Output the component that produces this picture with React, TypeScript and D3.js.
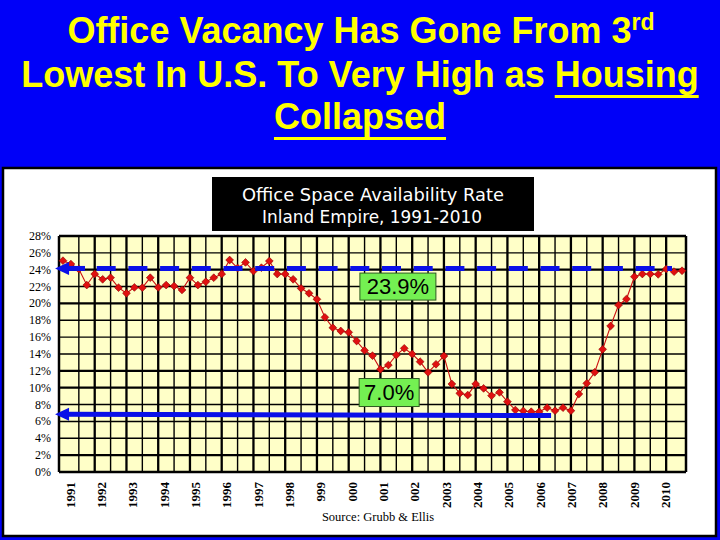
import React from 'react';
import * as d3 from 'd3';

// ---- data ----
const yearLabels = ['1991','1992','1993','1994','1995','1996','1997','1998','999','000','001','002','2003','2004','2005','2006','2007','2008','2009','2010'];
const yTicks = [0,2,4,6,8,10,12,14,16,18,20,22,24,26,28];
const rates = [
  25.07, 24.67, 24.08, 22.18, 23.49, 22.86, 23.05, 21.87,
  21.2, 21.9, 21.87, 23.05, 21.9, 22.18, 22.06, 21.6,
  23.05, 22.18, 22.57, 23.05, 23.49, 25.15, 24.2, 24.87,
  23.84, 24.24, 25.03, 23.49, 23.49, 22.86, 21.79, 21.2,
  20.49, 18.35, 17.12, 16.73, 16.57, 15.54, 14.43, 13.8,
  12.18, 12.69, 13.88, 14.67, 14.0, 13.09, 11.83, 12.78,
  13.76, 10.44, 9.33, 9.13, 10.44, 9.92, 9.05, 9.45,
  8.34, 7.35, 7.24, 7.15, 7.15, 7.63, 7.27, 7.63,
  7.27, 9.25, 10.52, 11.83, 14.55, 17.32, 19.81, 20.52,
  23.17, 23.49, 23.49, 23.45, 24.08, 23.77, 23.88
];
const highLevel = 24.15;
const lowLevelStart = 6.85;
const lowLevelEnd = 6.7;
const annotationLabels = ['23.9%', '7.0%'];
const annotationValues = [22.0, 9.43];
const annotationIndex = [42.2, 41.1];

const thickH = new Set([0, 2, 10, 12, 20, 24, 28]);

function measure(text: string, font: string) {
  const c = document.createElement('canvas').getContext('2d');
  if (!c) return text.length * 18;
  c.font = font;
  return c.measureText(text).width;
}

export default function App() {
  const W = 720, H = 540;
  const L = 59, R = 686, T = 236, B = 472;
  const x = d3.scaleLinear().domain([-0.5, rates.length - 0.5]).range([L, R]);
  const y = d3.scaleLinear().domain([0, 28]).range([B, T]);
  const yearBand = d3.scaleBand().domain(yearLabels).range([L, R]);
  const line = d3.line<number>().x((_, i) => x(i)).y(d => y(d));

  const titleFont = "bold 36px 'Liberation Sans', Arial, sans-serif";
  const line2 = 'Lowest In U.S. To Very High as ';
  const w2full = measure(line2 + 'Housing', titleFont);
  const w2pre = measure(line2, titleFont);
  const x2start = 360 - w2full / 2;
  const w3 = measure('Collapsed', titleFont);

  const vIdx: number[] = [];
  for (let i = 2; i < rates.length - 1; i += 2) vIdx.push(i);

  const diamond = 'M0,-3.9L3.9,0L0,3.9L-3.9,0Z';

  const arrowHead = (tipX: number, tipY: number) =>
    `M${tipX},${tipY}L${tipX + 14},${tipY - 6.5}L${tipX + 14},${tipY + 6.5}Z`;

  const tipX = x(-1);
  const hy = y(highLevel);

  return (
    <svg width={W} height={H} style={{ position: 'absolute', left: 0, top: 0 }}>
      <rect x={0} y={0} width={W} height={H} fill="#0000f8" />
      {/* Title */}
      <g fill="#ffff00" style={{ font: titleFont }}>
        <text x={361} y={43} textAnchor="middle">
          Office Vacancy Has Gone From 3<tspan fontSize={23} dy={-13}>rd</tspan>
        </text>
        <text x={360} y={87} textAnchor="middle">{line2}Housing</text>
        <rect x={x2start + w2pre} y={95} width={w2full - w2pre} height={3} />
        <text x={360} y={129} textAnchor="middle">Collapsed</text>
        <rect x={360 - w3 / 2} y={137} width={w3} height={3} />
      </g>
      {/* panel */}
      <rect x={3} y={168} width={713} height={368} fill="#ffffff" stroke="#000" strokeWidth={2.5} />
      {/* header */}
      <rect x={212} y={177} width={322} height={54} fill="#000" />
      <g fill="#fff" fontFamily="'DejaVu Sans', sans-serif" fontSize={18} textAnchor="middle">
        <text x={373} y={201} textLength={262} lengthAdjust="spacingAndGlyphs">Office Space Availability Rate</text>
        <text x={372} y={223} textLength={220} lengthAdjust="spacingAndGlyphs">Inland Empire, 1991-2010</text>
      </g>
      {/* plot bg */}
      <rect x={L} y={T} width={R - L} height={B - T} fill="#ffffc8" />
      {/* grid */}
      <g stroke="#000">
        {yTicks.map(t => (
          <line key={'h' + t} x1={L} x2={R} y1={y(t)} y2={y(t)} strokeWidth={thickH.has(t) ? 2.3 : 1.4} />
        ))}
        {vIdx.map(i => (
          <line key={'v' + i} x1={x(i)} x2={x(i)} y1={T} y2={B} strokeWidth={i % 4 === 0 ? 2.3 : 1.4} />
        ))}
        <line x1={L} x2={L} y1={T} y2={B} strokeWidth={2.5} />
        <line x1={R} x2={R} y1={T} y2={B} strokeWidth={2.5} />
      </g>
      {/* y labels */}
      <g fontFamily="'Liberation Serif', 'Times New Roman', serif" fontSize={12} textAnchor="end" fill="#000">
        {yTicks.map(t => (
          <text key={'yl' + t} x={51} y={y(t)} dominantBaseline="central">{t}%</text>
        ))}
      </g>
      {/* x labels */}
      <g fontFamily="'Liberation Serif', 'Times New Roman', serif" fontSize={13} fontWeight="bold" fill="#000">
        {yearLabels.map(yl => {
          const cx = (yearBand(yl) as number) + 11;
          return (
            <text key={'xl' + yl} transform={`translate(${cx},482) rotate(-90)`} textAnchor="end" dominantBaseline="central">{yl}</text>
          );
        })}
      </g>
      <text x={378} y={521} textAnchor="middle" fontFamily="'Liberation Serif', 'Times New Roman', serif" fontSize={12.5}>Source: Grubb &amp; Ellis</text>
      {/* data */}
      <path d={line(rates) || ''} fill="none" stroke="#cc1010" strokeWidth={1.1} />
      {rates.map((v, i) => (
        <path key={'m' + i} d={diamond} transform={`translate(${x(i)},${y(v)})`} fill="#e01010" stroke="#8a0000" strokeWidth={0.6} />
      ))}
      {/* blue arrows */}
      <g fill="#0a10e8" stroke="none">
        <path d={arrowHead(tipX, hy)} />
        <path d={arrowHead(tipX, y(lowLevelStart))} />
      </g>
      <line x1={tipX + 10} x2={85} y1={hy} y2={hy} stroke="#0a10e8" strokeWidth={5} />
      <line x1={96.7} x2={672} y1={hy} y2={hy} stroke="#0a10e8" strokeWidth={5} strokeDasharray="19 12.7" />
      <line x1={tipX + 10} x2={x(61.5)} y1={y(lowLevelStart)} y2={y(lowLevelEnd)} stroke="#0a10e8" strokeWidth={5} />
      {/* annotation boxes */}
      {annotationLabels.map((lab, k) => {
        const cx = x(annotationIndex[k]);
        const cy = y(annotationValues[k]);
        const bw = k === 0 ? 76 : 60;
        const bh = k === 0 ? 27 : 28;
        return (
          <g key={'a' + k}>
            <rect x={cx - bw / 2} y={cy - bh / 2} width={bw} height={bh} fill="#74f052" stroke="#2f5a22" strokeWidth={1} />
            <text x={cx} y={cy + 7.5} textAnchor="middle" fontFamily="'Liberation Sans', Arial, sans-serif" fontSize={22} fill="#000">{lab}</text>
          </g>
        );
      })}
    </svg>
  );
}
